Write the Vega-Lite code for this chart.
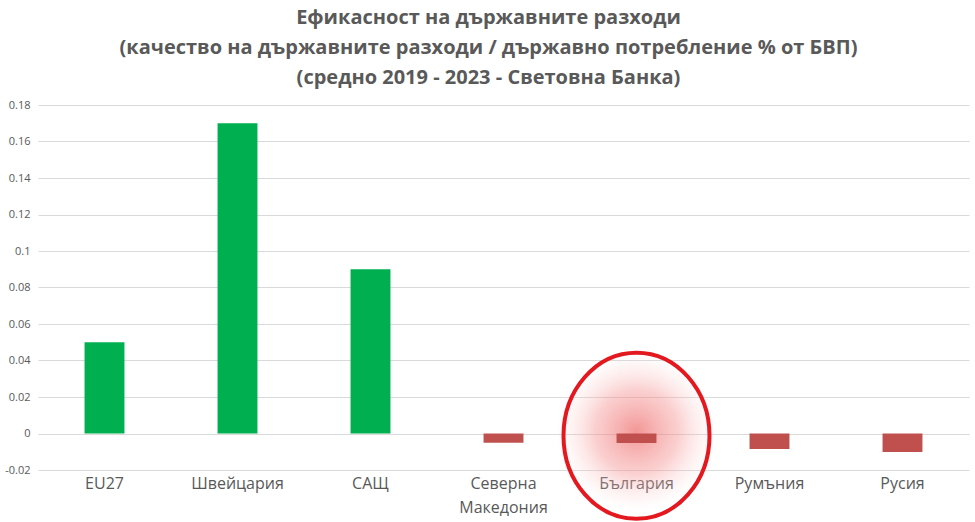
{
  "$schema": "https://vega.github.io/schema/vega-lite/v6.json",
  "width": 931,
  "height": 365,
  "autosize": {"type": "none"},
  "padding": {"left": 38, "top": 105, "right": 6, "bottom": 52},
  "background": "white",
  "config": {
    "font": "Open Sans",
    "view": {"stroke": null},
    "axisY": {
      "labelColor": "#595959",
      "labelFontSize": 11,
      "labelPadding": 8,
      "labelOverlap": false,
      "ticks": false,
      "domain": false,
      "gridColor": "#d9d9d9",
      "title": null
    },
    "axisX": {
      "labelColor": "#595959",
      "labelFontSize": 16,
      "labelPadding": 5,
      "labelAngle": 0,
      "ticks": false,
      "domain": false,
      "grid": false,
      "title": null
    }
  },
  "title": {
    "text": [
      "Ефикасност на държавните разходи",
      "(качество на държавните разходи / държавно потребление % от БВП)",
      "(средно 2019 - 2023 - Световна Банка)"
    ],
    "font": "Open Sans",
    "fontSize": 20,
    "fontWeight": "bold",
    "color": "#595959",
    "lineHeight": 30,
    "anchor": "middle",
    "dx": -15,
    "offset": 11
  },
  "datasets": {
    "bars": [
      {"country": "EU27", "value": 0.05},
      {"country": "Швейцария", "value": 0.17},
      {"country": "САЩ", "value": 0.09},
      {"country": "Северна Македония", "value": -0.005},
      {"country": "България", "value": -0.0052},
      {"country": "Румъния", "value": -0.0085},
      {"country": "Русия", "value": -0.0102}
    ],
    "mark": [
      {"country": "България", "glow": 0.001, "ring": -0.0012}
    ]
  },
  "encoding": {
    "x": {
      "field": "country",
      "type": "nominal",
      "sort": null,
      "scale": {
        "domain": ["EU27", "Швейцария", "САЩ", "Северна Македония", "България", "Румъния", "Русия"],
        "paddingInner": 0.7,
        "paddingOuter": 0.35
      },
      "axis": {
        "labelExpr": "datum.label == 'Северна Македония' ? ['Северна', 'Македония'] : datum.label",
        "labelLineHeight": 24
      }
    }
  },
  "layer": [
    {
      "data": {"name": "mark"},
      "mark": {
        "type": "point",
        "shape": "circle",
        "size": 28000,
        "filled": true,
        "opacity": 1,
        "strokeWidth": 0,
        "fill": {
          "gradient": "radial",
          "x1": 0.5, "y1": 0.5, "r1": 0,
          "x2": 0.5, "y2": 0.5, "r2": 0.5,
          "stops": [
            {"offset": 0, "color": "rgba(238,105,105,0.7)"},
            {"offset": 0.5, "color": "rgba(245,150,150,0.45)"},
            {"offset": 0.8, "color": "rgba(250,200,200,0.18)"},
            {"offset": 1, "color": "rgba(255,255,255,0)"}
          ]
        }
      },
      "encoding": {
        "y": {
          "field": "glow",
          "type": "quantitative",
          "scale": {"domain": [-0.02, 0.18], "nice": false},
          "axis": {
            "values": [-0.02, 0, 0.02, 0.04, 0.06, 0.08, 0.1, 0.12, 0.14, 0.16, 0.18],
            "labelExpr": "replace(format(datum.value, '.2~f'), '−', '-')"
          }
        }
      }
    },
    {
      "data": {"name": "bars"},
      "mark": {"type": "bar"},
      "encoding": {
        "y": {
          "field": "value",
          "type": "quantitative",
          "scale": {"domain": [-0.02, 0.18], "nice": false},
          "axis": {
            "values": [-0.02, 0, 0.02, 0.04, 0.06, 0.08, 0.1, 0.12, 0.14, 0.16, 0.18],
            "labelExpr": "replace(format(datum.value, '.2~f'), '−', '-')"
          }
        },
        "color": {
          "condition": {"test": "datum.value >= 0", "value": "#00b050"},
          "value": "#c0504d"
        }
      }
    },
    {
      "data": {"name": "mark"},
      "mark": {
        "type": "point",
        "shape": "M -1 0 A 1 1.137 0 1 1 1 0 A 1 1.137 0 1 1 -1 0 Z",
        "size": 21316,
        "filled": false,
        "stroke": "#e3191f",
        "strokeWidth": 4,
        "opacity": 1
      },
      "encoding": {
        "y": {
          "field": "ring",
          "type": "quantitative",
          "scale": {"domain": [-0.02, 0.18], "nice": false},
          "axis": {
            "values": [-0.02, 0, 0.02, 0.04, 0.06, 0.08, 0.1, 0.12, 0.14, 0.16, 0.18],
            "labelExpr": "replace(format(datum.value, '.2~f'), '−', '-')"
          }
        }
      }
    }
  ]
}
